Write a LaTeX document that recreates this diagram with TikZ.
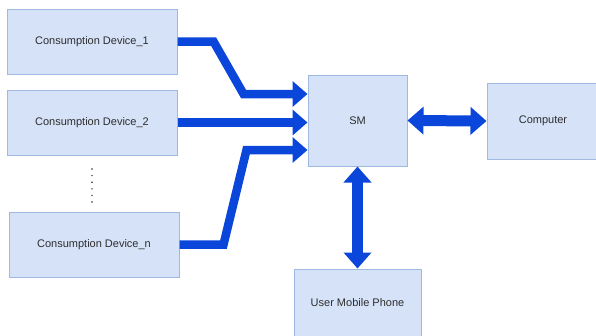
\documentclass[tikz,border=0pt]{standalone}
\usepackage{fontspec}
\setmainfont{Liberation Sans}
\usetikzlibrary{arrows.meta,calc,positioning}
\newcommand{\FLOWPT}{8.5pt}
\newcommand{\LINKPT}{11pt}
\definecolor{boxfill}{RGB}{214,226,248}
\definecolor{boxline}{RGB}{160,185,225}
\definecolor{flowblue}{RGB}{10,70,218}
\definecolor{textgray}{RGB}{45,45,45}

\begin{document}
\begin{tikzpicture}[x=1pt,y=-1pt,
	unitbox/.style={draw=boxline,fill=boxfill,line width=1pt,text=textgray,font=\fontsize{11}{13}\selectfont,inner sep=0pt},
	flowline/.style={draw=flowblue,line width=\FLOWPT,-{Triangle[length=15pt,width=25pt]}},
	linkline/.style={draw=flowblue,line width=\LINKPT,{Triangle[length=16pt,width=27pt]}-{Triangle[length=16pt,width=27pt]}}]
	
		\useasboundingbox (0,0) rectangle (596,335);
		
		%% boxes
		\node[unitbox,minimum width=170pt,minimum height=65pt] (dev1) at (92,41.5) {Consumption Device\_1};
		\node[unitbox,minimum width=170pt,minimum height=65pt] (dev2) at (92,122.5) {Consumption Device\_2};
		\node[unitbox,minimum width=170pt,minimum height=65pt] (devn) at (94,244.5) {Consumption Device\_n};
		\node[unitbox,minimum width=99pt,minimum height=91pt] (sm) at (357.5,120.5) {SM};
		\node[unitbox,minimum width=112pt,minimum height=76pt] (comp) at (543,121) {Computer};
		\node[unitbox,minimum width=127pt,minimum height=67pt] (phone) at (357.5,302.5) {User Mobile Phone};
		
		%% dots between the devices
		\foreach \k in {0,...,5}
			\fill[textgray] (92,{169+6.6*\k}) circle (0.8pt);
		
		%% devices into SM
		\draw[flowline] (dev1.east) -- ++(36,0) -- ++(30,52.5) -- ($(sm.west)+(0,-26.5)$);
		\draw[flowline] (dev2.east) -- (dev2.east -| sm.west);
		\draw[flowline] (devn.east) -- ++(44,0) -- ++(23,-94.5) -- ($(sm.west)+(0,29.5)$);
		
		%% SM links
		\draw[linkline] (sm.east) -- (comp.west);
		\draw[linkline] (sm.south) -- (phone.north);
		
	\end{tikzpicture}
\end{document}
